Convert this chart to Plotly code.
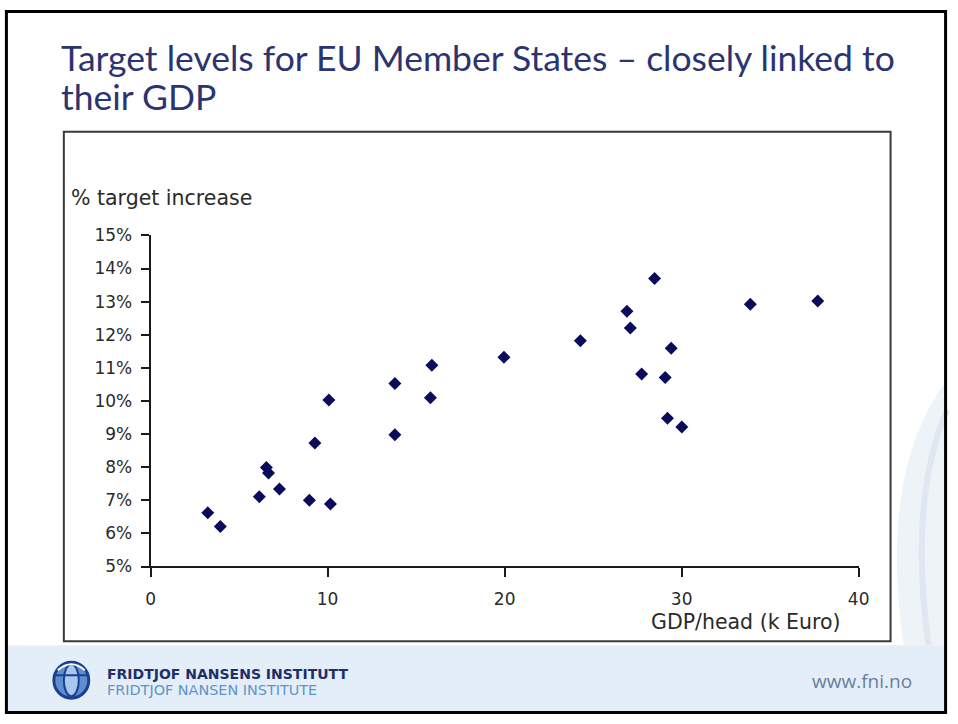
import plotly.graph_objects as go

W, H = 958, 724

gdp_per_head = [3.23, 3.94, 6.14, 6.54, 6.66, 7.28, 8.97, 9.28, 10.16, 10.07, 13.8, 13.8, 15.89,
                15.81, 19.96, 24.28, 26.91, 27.1, 28.47, 27.74, 29.41, 29.07, 29.2, 30.01, 33.88, 37.69]
target_increase = [6.62, 6.21, 7.11, 7.99, 7.82, 7.34, 7.0, 8.73, 6.89, 10.03, 10.53, 8.98, 11.08,
                   10.1, 11.32, 11.82, 12.71, 12.2, 13.7, 10.81, 11.59, 10.71, 9.48, 9.21, 12.92, 13.02]
x_ticks = [0, 10, 20, 30, 40]
y_ticks = [5, 6, 7, 8, 9, 10, 11, 12, 13, 14, 15]
y_tick_labels = ["5%", "6%", "7%", "8%", "9%", "10%", "11%", "12%", "13%", "14%", "15%"]

title_lines = ["Target levels for EU Member States \u2013 closely linked to", "their GDP"]

# The photographed page shows the figure slightly offset and scaled; layout
# positions (in target-picture pixels) are converted to figure pixels here.
OX, SX, OY, SY = 4.0, 0.986, 9.0, 0.975


def px(x):
    return ((x - OX) / SX) / W


def py(y):
    return 1 - ((y - OY) / SY) / H


fig = go.Figure()
fig.add_trace(go.Scatter(
    x=gdp_per_head, y=target_increase, mode="markers",
    marker=dict(symbol="diamond", size=10, color="#0b0b5c", line=dict(width=0)),
    hoverinfo="x+y", showlegend=False,
))

tick_font = dict(family="DejaVu Sans, Arial", size=17, color="#2a2a2a")
label_font = dict(family="DejaVu Sans, Arial", size=20.5, color="#2a2a2a")

shapes = [
    # footer band
    dict(type="rect", xref="paper", yref="paper", x0=0, x1=1, y0=0, y1=py(646),
         fillcolor="#e4eef8", line=dict(width=0), layer="below"),
    # faint decorative swoosh on the right
    dict(type="path", xref="paper", yref="paper",
         path=f"M 1,{py(380)} Q {px(880)},{py(470)} {px(905)},{py(646)} L 1,{py(646)} Z",
         fillcolor="#eef3f8", line=dict(width=0), layer="below"),
    dict(type="path", xref="paper", yref="paper",
         path=f"M 1,{py(410)} Q {px(910)},{py(500)} {px(930)},{py(646)}",
         line=dict(color="#dfe7f0", width=6), layer="below"),
    # chart box
    dict(type="rect", xref="paper", yref="paper", x0=px(63), x1=px(892), y0=py(642), y1=py(131),
         fillcolor="white", line=dict(color="#3a3a3a", width=2), layer="below"),
    # logo globe
    dict(type="circle", xref="paper", yref="paper", x0=px(53), x1=px(88), y0=py(699), y1=py(663),
         fillcolor="#5b8fd0", line=dict(color="#1d3f8f", width=3)),
    dict(type="circle", xref="paper", yref="paper", x0=px(63), x1=px(78), y0=py(697), y1=py(665),
         fillcolor="#a9c8ee", line=dict(color="#1d3f8f", width=2)),
    dict(type="line", xref="paper", yref="paper", x0=px(54), x1=px(87), y0=py(676), y1=py(676),
         line=dict(color="#1d3f8f", width=2)),
    dict(type="path", xref="paper", yref="paper",
         path=f"M {px(57)},{py(671)} Q {px(70.5)},{py(659)} {px(84)},{py(671)}",
         line=dict(color="white", width=2)),
    # slide frame
    dict(type="rect", xref="paper", yref="paper", x0=0.0015, x1=0.9985, y0=0.002, y1=0.998,
         line=dict(color="black", width=3)),
]

annotations = [
    dict(text=title_lines[0], x=px(58), y=py(57), xref="paper", yref="paper", xanchor="left",
         yanchor="middle", showarrow=False, font=dict(family="Lato, Noto Sans", size=35.5, color="#2b3470")),
    dict(text=title_lines[1], x=px(58), y=py(96), xref="paper", yref="paper", xanchor="left",
         yanchor="middle", showarrow=False, font=dict(family="Lato, Noto Sans", size=35.5, color="#2b3470")),
    dict(text="% target increase", x=px(68), y=py(198), xref="paper", yref="paper", xanchor="left",
         yanchor="middle", showarrow=False, font=label_font),
    dict(text="GDP/head (k Euro)", x=px(844), y=py(623), xref="paper", yref="paper", xanchor="right",
         yanchor="middle", showarrow=False, font=label_font),
    dict(text="<b>FRIDTJOF NANSENS INSTITUTT</b>", x=px(104), y=py(675), xref="paper", yref="paper",
         xanchor="left", yanchor="middle", showarrow=False,
         font=dict(family="DejaVu Sans", size=14, color="#1e2f6a")),
    dict(text="FRIDTJOF NANSEN INSTITUTE", x=px(104), y=py(691), xref="paper", yref="paper",
         xanchor="left", yanchor="middle", showarrow=False,
         font=dict(family="DejaVu Sans", size=14.4, color="#5f94c8")),
    dict(text="www.fni.no", x=px(915), y=py(682), xref="paper", yref="paper", xanchor="right",
         yanchor="middle", showarrow=False, font=dict(family="Open Sans", size=19, color="#6a7f9c")),
]

fig.update_layout(
    width=W, height=H, margin=dict(l=0, r=0, t=0, b=0),
    paper_bgcolor="white", plot_bgcolor="rgba(0,0,0,0)",
    shapes=shapes, annotations=annotations, showlegend=False,
    xaxis=dict(domain=[px(150), px(860)], range=[0, 40], tickvals=x_ticks,
               showline=True, linecolor="#1a1a1a", linewidth=2, ticks="outside", ticklen=9,
               tickcolor="#1a1a1a", tickwidth=2, showgrid=False, zeroline=False,
               tickfont=tick_font, ticklabelstandoff=7, fixedrange=True),
    yaxis=dict(domain=[py(567), py(235)], range=[5, 15], tickvals=y_ticks, ticktext=y_tick_labels,
               showline=True, linecolor="#1a1a1a", linewidth=2, ticks="outside", ticklen=8,
               tickcolor="#1a1a1a", tickwidth=2, showgrid=False, zeroline=False,
               tickfont=tick_font, ticklabelstandoff=5, fixedrange=True),
)

fig.write_html("out.html")
